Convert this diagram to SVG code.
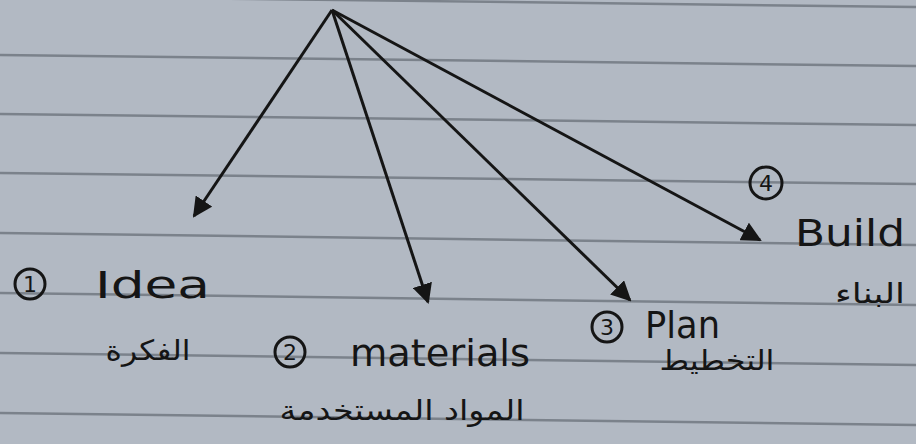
<svg xmlns="http://www.w3.org/2000/svg" width="916" height="444" viewBox="0 0 916 444">
<defs>
<marker id="ah" viewBox="0 0 10 10" refX="9" refY="5" markerWidth="20" markerHeight="20" orient="auto" markerUnits="userSpaceOnUse">
<path d="M0,0 L10,5 L0,10 z" fill="#151515"/>
</marker>
<style>
.rule{stroke:#7b828b;stroke-width:2.5;fill:none}
.arrow{stroke:#151515;stroke-width:3;fill:none}
.num{fill:none;stroke:#151515;stroke-width:3}
.numt{font-family:"DejaVu Sans",sans-serif;font-size:22px;fill:#151515;text-anchor:middle}
.en{font-family:"DejaVu Sans",sans-serif;font-size:38px;fill:#151515}
.ar{font-family:"DejaVu Sans","Noto Sans",sans-serif;font-size:28px;fill:#151515;text-anchor:middle}
</style>
</defs>
<rect width="916" height="444" fill="#b2b9c3"/>
<g id="rules">
<line class="rule" x1="0" y1="-4" x2="916" y2="7"/>
<line class="rule" x1="0" y1="55" x2="916" y2="66"/>
<line class="rule" x1="0" y1="114" x2="916" y2="125"/>
<line class="rule" x1="0" y1="173" x2="916" y2="184"/>
<line class="rule" x1="0" y1="233" x2="916" y2="245"/>
<line class="rule" x1="0" y1="293" x2="916" y2="305"/>
<line class="rule" x1="0" y1="353" x2="916" y2="365"/>
<line class="rule" x1="0" y1="413" x2="916" y2="425"/>
</g>
<g id="connectors">
<path class="arrow" d="M332,10 L194,216" marker-end="url(#ah)"/>
<path class="arrow" d="M332,10 L428,302" marker-end="url(#ah)"/>
<path class="arrow" d="M332,10 L630,300" marker-end="url(#ah)"/>
<path class="arrow" d="M332,10 L760,240" marker-end="url(#ah)"/>
</g>
<g id="node1">
<circle class="num" cx="30" cy="284" r="15"/>
<text class="numt" x="30" y="292">1</text>
<text class="en" x="95" y="298" textLength="115" lengthAdjust="spacingAndGlyphs">Idea</text>
<text class="ar" x="148" y="360" textLength="85" lengthAdjust="spacingAndGlyphs">الفكرة</text>
</g>
<g id="node2">
<circle class="num" cx="290" cy="352" r="15"/>
<text class="numt" x="290" y="360">2</text>
<text class="en" x="350" y="366" textLength="180" lengthAdjust="spacingAndGlyphs">materials</text>
<text class="ar" x="402" y="420" textLength="245" lengthAdjust="spacingAndGlyphs">المواد المستخدمة</text>
</g>
<g id="node3">
<circle class="num" cx="607" cy="327" r="15"/>
<text class="numt" x="607" y="335">3</text>
<text class="en" x="645" y="338" textLength="75" lengthAdjust="spacingAndGlyphs">Plan</text>
<text class="ar" x="717" y="370" textLength="115" lengthAdjust="spacingAndGlyphs">التخطيط</text>
</g>
<g id="node4">
<circle class="num" cx="766" cy="183" r="16"/>
<text class="numt" x="766" y="191">4</text>
<text class="en" x="795" y="246" textLength="110" lengthAdjust="spacingAndGlyphs">Build</text>
<text class="ar" x="870" y="303" textLength="70" lengthAdjust="spacingAndGlyphs">البناء</text>
</g>
</svg>
